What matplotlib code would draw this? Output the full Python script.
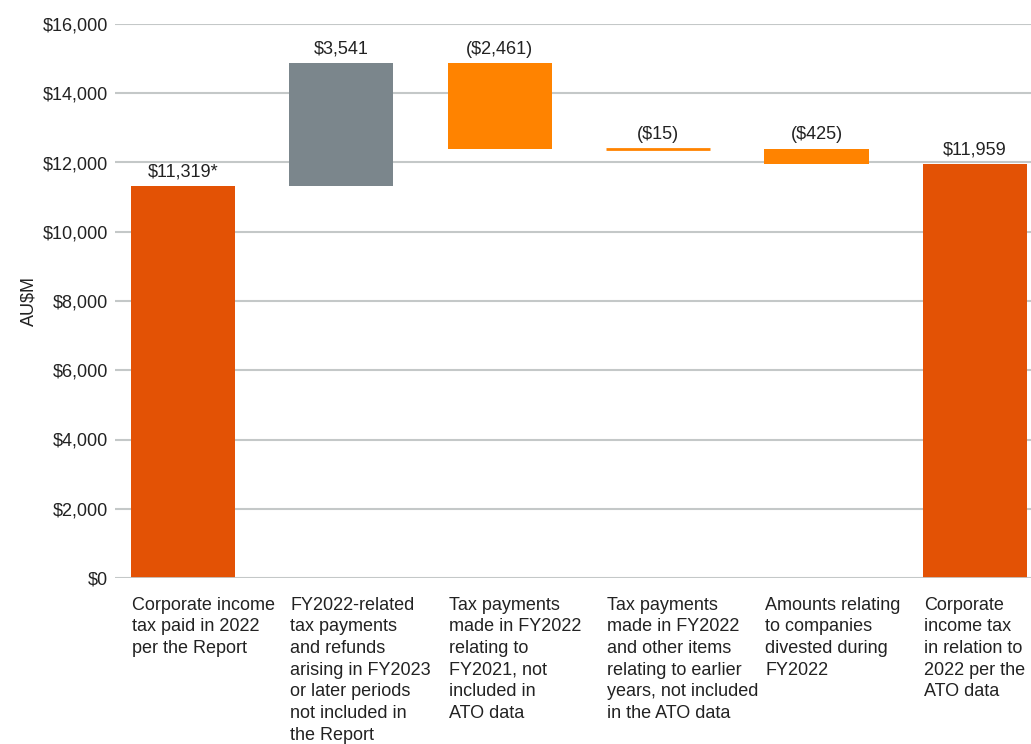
import matplotlib
matplotlib.use('Agg')
import matplotlib.pyplot as plt

categories = [
    "Corporate income\ntax paid in 2022\nper the Report",
    "FY2022-related\ntax payments\nand refunds\narising in FY2023\nor later periods\nnot included in\nthe Report",
    "Tax payments\nmade in FY2022\nrelating to\nFY2021, not\nincluded in\nATO data",
    "Tax payments\nmade in FY2022\nand other items\nrelating to earlier\nyears, not included\nin the ATO data",
    "Amounts relating\nto companies\ndivested during\nFY2022",
    "Corporate\nincome tax\nin relation to\n2022 per the\nATO data",
]
changes = [11319, 3541, -2461, -15, -425, 11959]
kinds = ["total", "up", "down", "down", "down", "total"]
value_labels = ["$11,319*", "$3,541", "($2,461)", "($15)", "($425)", "$11,959"]
yticks = [0, 2000, 4000, 6000, 8000, 10000, 12000, 14000, 16000]

colors = {"total": "#E35205", "up": "#7B868C", "down": "#FF8300"}

plt.rcParams['font.family'] = ['Liberation Sans', 'DejaVu Sans']

fig = plt.figure(figsize=(10.31, 7.44), dpi=100)
ax = fig.add_axes([115 / 1031, 166 / 744, 1 - 115 / 1031, (578 - 24) / 744])

fs = 13
w = 0.657
running = 0
for i, (c, k) in enumerate(zip(changes, kinds)):
    if k == "total":
        bottom, height = 0, c
        running = c
    elif k == "up":
        bottom, height = running, c
        running += c
    else:
        bottom, height = running + c, -c
        running += c
    top = bottom + height
    if k == "down" and height < 60:
        ax.plot([i - w / 2, i + w / 2], [top, top], color=colors[k], lw=2,
                solid_capstyle='butt', zorder=3)
    else:
        ax.bar(i, height, bottom=bottom, width=w, color=colors[k], zorder=3)
    ax.text(i, top + 170, value_labels[i], ha='center', va='bottom', fontsize=fs,
            color='#222222')
    ax.text(i - w / 2 + 0.005, -540, categories[i], ha='left', va='top', fontsize=fs,
            color='#222222', linespacing=1.36, clip_on=False)

ax.set_xlim(-0.429, 5.354)
ax.set_ylim(0, 16000)
ax.set_yticks(yticks)
ax.set_yticklabels(["${:,}".format(v) for v in yticks], fontsize=fs, color='#222222')
ax.set_xticks([])
ax.tick_params(axis='y', length=0, pad=5)
ax.grid(axis='y', color='#C4C8C8', lw=1.5, zorder=0)
for s in ax.spines.values():
    s.set_visible(False)
ax.axhline(0, color='#C4C8C8', lw=2, zorder=4)
ax.set_ylabel("AU$M", fontsize=fs, color='#222222', labelpad=4)

fig.savefig("out.png", dpi=100)
